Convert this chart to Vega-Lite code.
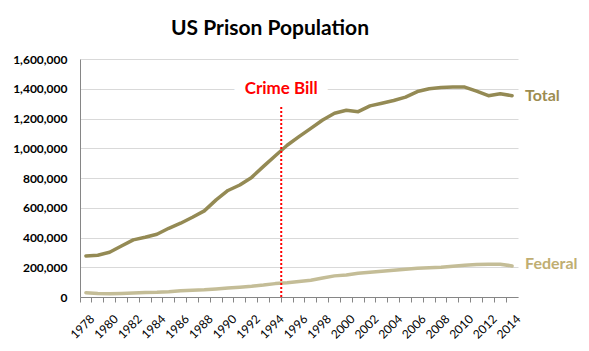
{
  "$schema": "https://vega.github.io/schema/vega-lite/v6.json",
  "width": 438,
  "height": 238,
  "autosize": {"type": "none"},
  "padding": {"left": 80, "top": 59, "right": 71, "bottom": 54},
  "background": "white",
  "title": {
    "text": "US Prison Population",
    "font": "Lato",
    "fontSize": 21,
    "fontWeight": "bold",
    "color": "#000000",
    "anchor": "middle",
    "dx": -29,
    "dy": 27,
    "baseline": "bottom",
    "offset": 20
  },
  "config": {
    "view": {"stroke": null},
    "font": "Lato",
    "axisX": {
      "title": null,
      "bandPosition": 0,
      "labelOffset": 3,
      "labelAngle": -45,
      "labelFont": "Lato",
      "labelFontSize": 12,
      "labelColor": "#000000",
      "labelPadding": 11,
      "domainColor": "#868686",
      "tickColor": "#868686",
      "tickSize": 5,
      "grid": false,
      "labelOverlap": false
    },
    "axisY": {
      "title": null,
      "labelFont": "Lato",
      "labelFontSize": 12,
      "labelFontWeight": "bold",
      "labelColor": "#000000",
      "labelPadding": 13,
      "labelOverlap": false,
      "ticks": false,
      "domainColor": "#868686",
      "gridColor": "#D9D9D9",
      "gridWidth": 1
    }
  },
  "datasets": {
    "pop": [
      {"year": 1978, "series": "Total", "value": 276000},
      {"year": 1979, "series": "Total", "value": 281000},
      {"year": 1980, "series": "Total", "value": 301000},
      {"year": 1981, "series": "Total", "value": 343000},
      {"year": 1982, "series": "Total", "value": 384000},
      {"year": 1983, "series": "Total", "value": 402000},
      {"year": 1984, "series": "Total", "value": 422000},
      {"year": 1985, "series": "Total", "value": 462000},
      {"year": 1986, "series": "Total", "value": 496000},
      {"year": 1987, "series": "Total", "value": 536000},
      {"year": 1988, "series": "Total", "value": 579000},
      {"year": 1989, "series": "Total", "value": 653000},
      {"year": 1990, "series": "Total", "value": 716000},
      {"year": 1991, "series": "Total", "value": 753000},
      {"year": 1992, "series": "Total", "value": 804000},
      {"year": 1993, "series": "Total", "value": 878000},
      {"year": 1994, "series": "Total", "value": 950000},
      {"year": 1995, "series": "Total", "value": 1020000},
      {"year": 1996, "series": "Total", "value": 1078000},
      {"year": 1997, "series": "Total", "value": 1134000},
      {"year": 1998, "series": "Total", "value": 1190000},
      {"year": 1999, "series": "Total", "value": 1235000},
      {"year": 2000, "series": "Total", "value": 1255000},
      {"year": 2001, "series": "Total", "value": 1246000},
      {"year": 2002, "series": "Total", "value": 1285000},
      {"year": 2003, "series": "Total", "value": 1303000},
      {"year": 2004, "series": "Total", "value": 1321000},
      {"year": 2005, "series": "Total", "value": 1344000},
      {"year": 2006, "series": "Total", "value": 1381000},
      {"year": 2007, "series": "Total", "value": 1400000},
      {"year": 2008, "series": "Total", "value": 1409000},
      {"year": 2009, "series": "Total", "value": 1411000},
      {"year": 2010, "series": "Total", "value": 1411000},
      {"year": 2011, "series": "Total", "value": 1384000},
      {"year": 2012, "series": "Total", "value": 1353000},
      {"year": 2013, "series": "Total", "value": 1367000},
      {"year": 2014, "series": "Total", "value": 1353000},
      {"year": 1978, "series": "Federal", "value": 29000},
      {"year": 1979, "series": "Federal", "value": 24000},
      {"year": 1980, "series": "Federal", "value": 22000},
      {"year": 1981, "series": "Federal", "value": 24000},
      {"year": 1982, "series": "Federal", "value": 27000},
      {"year": 1983, "series": "Federal", "value": 30000},
      {"year": 1984, "series": "Federal", "value": 32000},
      {"year": 1985, "series": "Federal", "value": 36000},
      {"year": 1986, "series": "Federal", "value": 42000},
      {"year": 1987, "series": "Federal", "value": 46000},
      {"year": 1988, "series": "Federal", "value": 48000},
      {"year": 1989, "series": "Federal", "value": 54000},
      {"year": 1990, "series": "Federal", "value": 60000},
      {"year": 1991, "series": "Federal", "value": 66000},
      {"year": 1992, "series": "Federal", "value": 72000},
      {"year": 1993, "series": "Federal", "value": 80000},
      {"year": 1994, "series": "Federal", "value": 90000},
      {"year": 1995, "series": "Federal", "value": 96000},
      {"year": 1996, "series": "Federal", "value": 104000},
      {"year": 1997, "series": "Federal", "value": 113000},
      {"year": 1998, "series": "Federal", "value": 128000},
      {"year": 1999, "series": "Federal", "value": 142000},
      {"year": 2000, "series": "Federal", "value": 148000},
      {"year": 2001, "series": "Federal", "value": 160000},
      {"year": 2002, "series": "Federal", "value": 166000},
      {"year": 2003, "series": "Federal", "value": 173000},
      {"year": 2004, "series": "Federal", "value": 180000},
      {"year": 2005, "series": "Federal", "value": 187000},
      {"year": 2006, "series": "Federal", "value": 193000},
      {"year": 2007, "series": "Federal", "value": 196000},
      {"year": 2008, "series": "Federal", "value": 200000},
      {"year": 2009, "series": "Federal", "value": 207000},
      {"year": 2010, "series": "Federal", "value": 213000},
      {"year": 2011, "series": "Federal", "value": 218000},
      {"year": 2012, "series": "Federal", "value": 220000},
      {"year": 2013, "series": "Federal", "value": 220000},
      {"year": 2014, "series": "Federal", "value": 209000}
    ]
  },
  "encoding": {
    "x": {
      "field": "year",
      "type": "ordinal",
      "scale": {"type": "band", "paddingInner": 0, "paddingOuter": 0},
      "axis": {"labelExpr": "datum.value % 2 == 0 ? datum.label : ''"}
    },
    "y": {
      "field": "value",
      "type": "quantitative",
      "scale": {"domain": [0, 1600000], "nice": false},
      "axis": {
        "values": [0, 200000, 400000, 600000, 800000, 1000000, 1200000, 1400000, 1600000],
        "format": ",d"
      }
    }
  },
  "layer": [
    {
      "data": {"name": "pop"},
      "mark": {"type": "line", "strokeWidth": 3.5, "strokeCap": "round", "strokeJoin": "round"},
      "encoding": {
        "color": {
          "field": "series",
          "type": "nominal",
          "scale": {"domain": ["Total", "Federal"], "range": ["#948A54", "#C4BD97"]},
          "legend": null
        }
      }
    },
    {
      "data": {"values": [{"year": 1995, "value": 0, "value2": 1290000}]},
      "mark": {"type": "rule", "color": "#FF0000", "strokeWidth": 2, "strokeDash": [2, 2]},
      "encoding": {
        "x": {"field": "year", "type": "ordinal", "bandPosition": 0, "axis": {"labelExpr": "datum.value % 2 == 0 ? datum.label : ''"}},
        "y2": {"field": "value2"}
      }
    },
    {
      "data": {"values": [{"year": 1995, "value": 1400000, "label": "Crime Bill"}]},
      "mark": {"type": "text", "font": "Lato", "fontSize": 17, "fontWeight": "bold", "color": "white", "stroke": "white", "strokeWidth": 22, "strokeJoin": "round", "align": "center", "baseline": "middle"},
      "encoding": {
        "x": {"field": "year", "type": "ordinal", "bandPosition": 0, "axis": {"labelExpr": "datum.value % 2 == 0 ? datum.label : ''"}},
        "text": {"field": "label"}
      }
    },
    {
      "data": {"values": [{"year": 1995, "value": 1400000, "label": "Crime Bill"}]},
      "mark": {"type": "text", "font": "Lato", "fontSize": 17, "fontWeight": "bold", "color": "#FF0000", "align": "center", "baseline": "middle"},
      "encoding": {
        "x": {"field": "year", "type": "ordinal", "bandPosition": 0, "axis": {"labelExpr": "datum.value % 2 == 0 ? datum.label : ''"}},
        "text": {"field": "label"}
      }
    },
    {
      "data": {"values": [{"year": 2014, "value": 1353000, "label": "Total"}]},
      "mark": {"type": "text", "font": "Lato", "fontSize": 16, "fontWeight": "bold", "color": "#9C8C50", "align": "left", "baseline": "middle", "dx": 13},
      "encoding": {
        "text": {"field": "label"}
      }
    },
    {
      "data": {"values": [{"year": 2014, "value": 209000, "label": "Federal"}]},
      "mark": {"type": "text", "font": "Lato", "fontSize": 16, "fontWeight": "bold", "color": "#C0AE72", "align": "left", "baseline": "middle", "dx": 13, "dy": -1.5},
      "encoding": {
        "text": {"field": "label"}
      }
    }
  ]
}
